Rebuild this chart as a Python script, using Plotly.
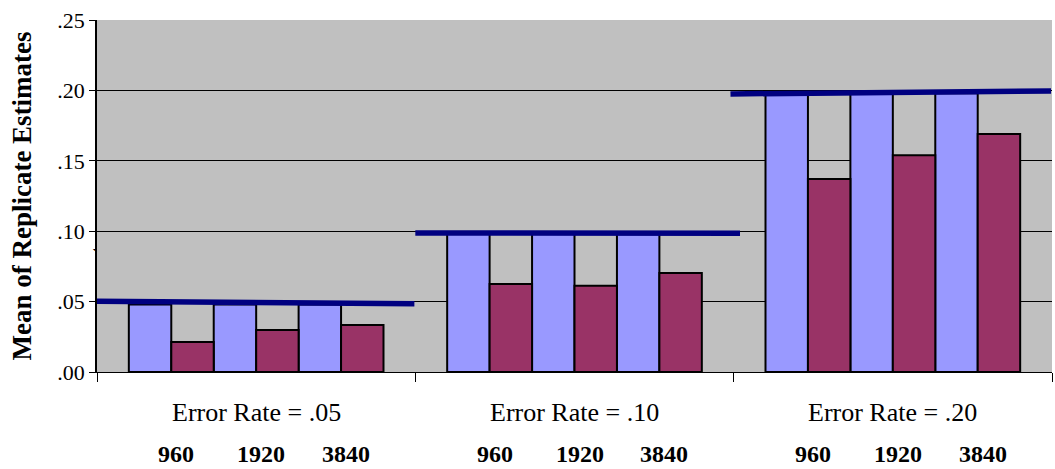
import numpy as np
import plotly.graph_objects as go

# ---- data ----
groups = ["Error Rate = .05", "Error Rate = .10", "Error Rate = .20"]
sample_sizes = ["960", "1920", "3840"]
series_a = [[0.0480, 0.0480, 0.0480],   # light blue bars
            [0.0995, 0.0995, 0.0995],
            [0.1975, 0.1980, 0.1980]]
series_b = [[0.0213, 0.0298, 0.0334],   # maroon bars
            [0.0625, 0.0612, 0.0703],
            [0.1370, 0.1540, 0.1690]]
true_left = [0.0503, 0.0987, 0.1975]     # reference line, left end value
true_right = [0.0484, 0.0985, 0.1996]    # reference line, right end value
y_tickvals = [0.00, 0.05, 0.10, 0.15, 0.20, 0.25]
y_ticktext = [".00", ".05", ".10", ".15", ".20", ".25"]

FONT = "Liberation Serif, Times New Roman, serif"
n_g = len(groups)
n_p = len(sample_sizes)
bw = 0.8 / (2 * n_p)
LINE_EXT = [(-0.5, 0.497), (-0.5, 0.52), (-0.51, 0.497)]   # drawn extent of reference lines per group

xa, ya, xb, yb, xp = [], [], [], [], []
for g in range(n_g):
    for p in range(n_p):
        left = g - 0.4 + 2 * p * bw
        xa.append(left + bw / 2)
        xb.append(left + 1.5 * bw)
        xp.append(left + bw)
        ya.append(series_a[g][p])
        yb.append(series_b[g][p])

fig = go.Figure()
fig.add_trace(go.Bar(x=xa, y=ya, width=bw, marker=dict(color="#9999FF", line=dict(color="#000000", width=2)),
                     showlegend=False, hoverinfo="y"))
fig.add_trace(go.Bar(x=xb, y=yb, width=bw, marker=dict(color="#993366", line=dict(color="#000000", width=2)),
                     showlegend=False, hoverinfo="y"))
for g in range(n_g):
    fig.add_trace(go.Scatter(x=[g + LINE_EXT[g][0], g + LINE_EXT[g][1]], y=[true_left[g], true_right[g]],
                             mode="lines", line=dict(color="#000080", width=5.5),
                             showlegend=False, hoverinfo="skip"))

annotations = []
for g in range(n_g):
    annotations.append(dict(x=g, y=0, xref="x", yref="paper", text=groups[g], showarrow=False,
                            yshift=-40, yanchor="middle", font=dict(family=FONT, size=26, color="#000")))
for i, x in enumerate(xp):
    annotations.append(dict(x=x, y=0, xref="x", yref="paper", text="<b>" + sample_sizes[i % n_p] + "</b>",
                            showarrow=False, yshift=-82, xshift=5, yanchor="middle",
                            font=dict(family=FONT, size=24, color="#000")))
annotations.append(dict(x=-0.0075, y=0.295, xref="paper", yref="paper", text="`", showarrow=False,
                        font=dict(family=FONT, size=18, color="#000")))

fig.update_layout(
    width=1055, height=469,
    margin=dict(l=97, r=3, t=20, b=97),
    paper_bgcolor="#FFFFFF", plot_bgcolor="#C0C0C0",
    barmode="overlay",
    annotations=annotations,
    font=dict(family=FONT, color="#000"),
)
fig.update_xaxes(range=[-0.5, n_g - 0.5], tickvals=[g - 0.5 for g in range(n_g + 1)],
                 ticktext=[""] * (n_g + 1), ticks="outside", ticklen=9, tickcolor="#000",
                 showline=True, linecolor="#000", linewidth=1, showgrid=False, zeroline=False)
fig.update_yaxes(range=[0, 0.25], tickvals=y_tickvals, ticktext=y_ticktext, ticks="outside", ticklen=6,
                 tickcolor="#000", showline=True, linecolor="#000", linewidth=1.5,
                 showgrid=True, gridcolor="#000", gridwidth=1, zeroline=False,
                 tickfont=dict(family=FONT, size=22, color="#000"),
                 title=dict(text="<b>Mean of Replicate Estimates</b>", font=dict(family=FONT, size=27, color="#000"),
                            standoff=18))

fig.write_html("out.html")
